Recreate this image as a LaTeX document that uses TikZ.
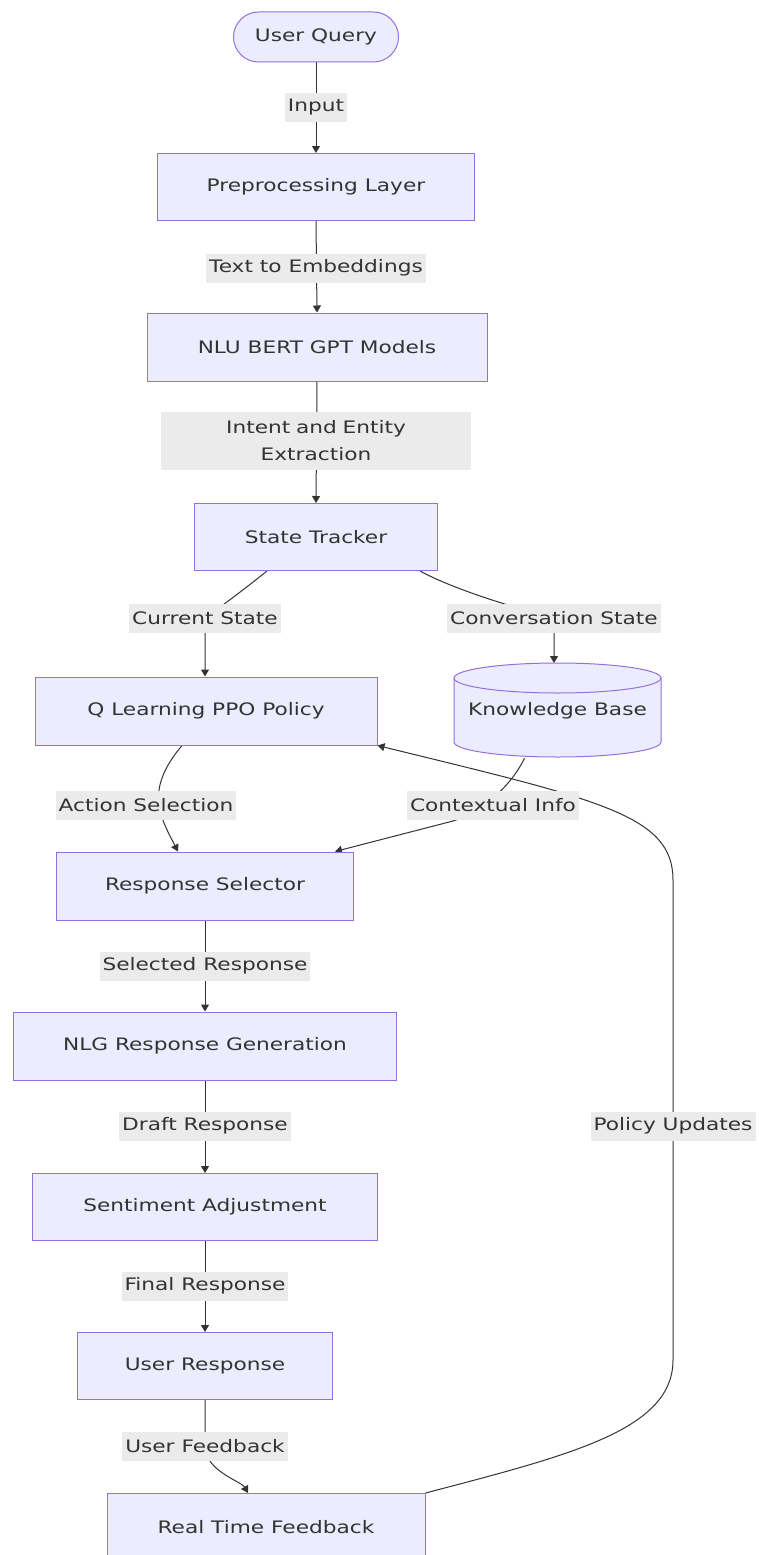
\documentclass[tikz,border=0pt]{standalone}
\usepackage{fontspec}
\setmainfont[FakeStretch=1.26]{DejaVu Sans}
\usetikzlibrary{arrows.meta,calc}
\definecolor{nodefill}{HTML}{ECECFF}
\definecolor{nodeline}{HTML}{9370DB}
\definecolor{lblbg}{HTML}{EBEBEB}
\definecolor{ink}{HTML}{333333}
\pgfdeclarelayer{bg}
\pgfsetlayers{bg,main}
\tikzset{
  box/.style={draw=nodeline, fill=nodefill, line width=1pt, text=ink, font=\fontsize{17.2}{22}\selectfont, inner sep=0pt},
  lbl/.style={fill=lblbg, text=ink, font=\fontsize{17.2}{27}\selectfont, inner sep=3pt, minimum height=29pt, align=center},
  conn/.style={draw=ink, line width=1pt},
  arr/.style={conn, -{Triangle[width=8pt,length=7pt]}},
}
\begin{document}
\begin{tikzpicture}[x=1pt,y=1pt]
\useasboundingbox (0,0) rectangle (759,-1555);
\begin{pgfonlayer}{bg}
\fill[white] (0,0) rectangle (759,-1555);
\end{pgfonlayer}
% nodes
\node[box, rounded corners=25pt, minimum width=165pt, minimum height=50pt] (uq) at (316,-37) {User Query};
\node[box, minimum width=317pt, minimum height=67pt] (pre) at (316,-187) {Preprocessing Layer};
\node[box, minimum width=340pt, minimum height=68pt] (nlu) at (317,-347) {NLU BERT GPT Models};
\node[box, minimum width=243pt, minimum height=67pt] (st) at (316,-537) {State Tracker};
\node[box, minimum width=342pt, minimum height=68pt] (qlp) at (206,-711) {Q Learning PPO Policy};
% knowledge base cylinder
\fill[nodefill] (454,-678) -- (454,-742) arc[start angle=180,end angle=360,x radius=103.5pt,y radius=15pt] -- (661,-678) arc[start angle=0,end angle=180,x radius=103.5pt,y radius=15pt] -- cycle;
\draw[nodeline, line width=1pt] (454,-678) -- (454,-742) arc[start angle=180,end angle=360,x radius=103.5pt,y radius=15pt] -- (661,-678) arc[start angle=0,end angle=180,x radius=103.5pt,y radius=15pt];
\draw[nodeline, line width=1pt] (454,-678) arc[start angle=180,end angle=360,x radius=103.5pt,y radius=15pt];
\node[text=ink, font=\fontsize{17.2}{22}\selectfont, inner sep=0pt, minimum width=207pt, minimum height=94pt] (kb) at (557.5,-711) {Knowledge Base};
\node[box, minimum width=297pt, minimum height=68pt] (rs) at (205,-886) {Response Selector};
\node[box, minimum width=383pt, minimum height=68pt] (nlg) at (205,-1046) {NLG Response Generation};
\node[box, minimum width=345pt, minimum height=67pt] (sa) at (205,-1207) {Sentiment Adjustment};
\node[box, minimum width=255pt, minimum height=67pt] (ur) at (205,-1366) {User Response};
\node[box, minimum width=318pt, minimum height=67pt] (rtf) at (266,-1527) {Real Time Feedback};
% labels
\node[lbl] (l1) at (316,-107) {Input};
\node[lbl] (l2) at (316,-268) {Text to Embeddings};
\node[lbl, minimum width=310pt, minimum height=58pt, text width=300pt] (l3) at (316,-441) {Intent and Entity\\Extraction};
\node[lbl] (l4) at (205,-618) {Current State};
\node[lbl] (l5) at (554,-618) {Conversation State};
\node[lbl] (l6) at (146,-805) {Action Selection};
\node[lbl] (l7) at (493,-805) {Contextual Info};
\node[lbl] (l8) at (205,-966) {Selected Response};
\node[lbl] (l9) at (205,-1126) {Draft Response};
\node[lbl] (l10) at (205,-1286) {Final Response};
\node[lbl] (l11) at (205,-1446) {User Feedback};
\node[lbl] (l12) at (673,-1126) {Policy Updates};
% connectors
\begin{pgfonlayer}{bg}
\draw[arr] (uq.south) -- (pre.north);
\draw[arr] (pre.south) -- (nlu.north);
\draw[arr] (nlu.south) -- (st.north);
\draw[arr] ($(st.south)+(-49,0)$) .. controls ($(st.south)+(-80,-25)$) and (l4.center) .. (l4.center) -- (qlp.north -| l4.center);
\draw[arr] ($(st.south)+(104,0)$) .. controls ($(st.south)+(150,-25)$) and (l5.center) .. (l5.center) -- ($(l5.center)+(0,-45)$);
\draw[arr] ($(qlp.south)+(-24,0)$) .. controls ($(qlp.south)+(-62,-45)$) and ($(rs.north)+(-45,35)$) .. ($(rs.north)+(-27,0)$);
\draw[arr] ($(kb.south)+(-33,0)$) .. controls ($(kb.south)+(-50,-35)$) and ($(l7.center)+(-20,-10)$) .. ($(l7.center)+(-40,-16)$) -- ($(rs.north)+(130,0)$);
\draw[arr] (rs.south) -- (nlg.north);
\draw[arr] (nlg.south) -- (sa.north);
\draw[arr] (sa.south) -- (ur.north);
\draw[arr] (ur.south) -- (l11.center) .. controls ($(l11.center)+(0,-25)$) and ($(rtf.north)+(-25,12)$) .. ($(rtf.north)+(-18,0)$);
\draw[arr] (rtf.north east) .. controls (570,-1455) and (673,-1430) .. (673,-1360) -- (l12.center) -- (673,-880) .. controls (673,-815) and (600,-800) .. (qlp.south east);
\end{pgfonlayer}
\end{tikzpicture}
\end{document}
